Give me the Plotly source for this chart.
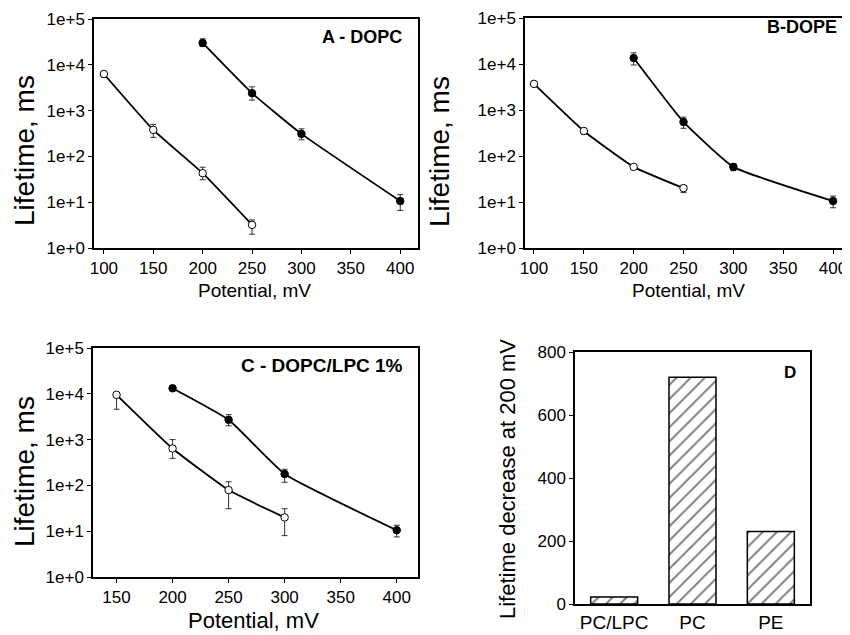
import plotly.graph_objects as go

# page body has an 8px default margin: the figure is drawn that much smaller and
# every reference pixel position is shifted by OFF.
OFF = 8
W, H = 850 - OFF, 635 - OFF
FONT = "Liberation Sans, Arial, sans-serif"

# ---------------- data ----------------
# Panel A - DOPC
a_open_x = [100, 150, 200, 250]
a_open_y = [6300, 380, 43, 3.2]
a_open_ep = [900, 120, 15, 0.9]
a_open_em = [900, 120, 12, 1.2]
a_closed_x = [200, 250, 300, 400]
a_closed_y = [30000, 2400, 310, 10.6]
a_closed_ep = [7000, 900, 90, 4]
a_closed_em = [5000, 700, 80, 4]

# Panel B - DOPE
b_open_x = [100, 150, 200, 250]
b_open_y = [3700, 350, 58, 20]
b_open_ep = [300, 50, 5, 3]
b_open_em = [300, 50, 5, 4]
b_closed_x = [200, 250, 300, 400]
b_closed_y = [13500, 550, 58, 10.5]
b_closed_ep = [4000, 150, 10, 3]
b_closed_em = [4000, 150, 10, 3]

# Panel C - DOPC/LPC 1%
c_open_x = [150, 200, 250, 300]
c_open_y = [9500, 640, 79, 20]
c_open_ep = [1000, 360, 41, 11]
c_open_em = [4900, 250, 48, 12]
c_closed_x = [200, 250, 300, 400]
c_closed_y = [13200, 2700, 177, 10.5]
c_closed_ep = [1500, 800, 48, 3]
c_closed_em = [1500, 700, 60, 3]

# Panel D
d_categories = ["PC/LPC", "PC", "PE"]
d_values = [22, 720, 230]

log_tickvals = [1, 10, 100, 1000, 10000, 100000]
log_ticktext = ["1e+0", "1e+1", "1e+2", "1e+3", "1e+4", "1e+5"]
ab_xticks = [100, 150, 200, 250, 300, 350, 400]
c_xticks = [150, 200, 250, 300, 350, 400]
d_yticks = [0, 200, 400, 600, 800]

panel_labels = ["A - DOPC", "B-DOPE", "C - DOPC/LPC 1%", "D"]
x_title = "Potential, mV"
y_title = "Lifetime, ms"
d_y_title = "Lifetime decrease at 200 mV"


def px_x(p):
    return (p - OFF) / W


def px_y(p):
    return 1 - (p - OFF) / H


fig = go.Figure()


def add_series(x, y, ep, em, xa, ya, filled):
    fig.add_trace(go.Scatter(
        x=x, y=y, xaxis=xa, yaxis=ya, mode="lines+markers",
        line=dict(color="black", width=1.8, shape="spline", smoothing=0.4),
        marker=dict(size=7.5, symbol="circle",
                    color="black" if filled else "white",
                    line=dict(color="black", width=1)),
        error_y=dict(type="data", symmetric=False, array=ep, arrayminus=em,
                     color="#333333", thickness=1, width=3),
        showlegend=False,
    ))


add_series(a_open_x, a_open_y, a_open_ep, a_open_em, "x", "y", False)
add_series(a_closed_x, a_closed_y, a_closed_ep, a_closed_em, "x", "y", True)
add_series(b_open_x, b_open_y, b_open_ep, b_open_em, "x2", "y2", False)
add_series(b_closed_x, b_closed_y, b_closed_ep, b_closed_em, "x2", "y2", True)
add_series(c_open_x, c_open_y, c_open_ep, c_open_em, "x3", "y3", False)
add_series(c_closed_x, c_closed_y, c_closed_ep, c_closed_em, "x3", "y3", True)

fig.add_trace(go.Bar(
    x=d_categories, y=d_values, xaxis="x4", yaxis="y4",
    marker=dict(color="white", line=dict(color="black", width=1.5),
                pattern=dict(shape="/", fgcolor="black", bgcolor="white",
                             size=10, solidity=0.2)),
    width=0.6, showlegend=False,
))

axis_common = dict(showline=True, linecolor="black", linewidth=1.5, mirror=True,
                   ticks="outside", ticklen=4, tickcolor="black", tickwidth=1,
                   showgrid=False, zeroline=False, automargin=False,
                   tickfont=dict(family=FONT, size=17, color="black"))

# domains (reference pixel positions)
dom = {
    "A": ([94, 418], [19, 248]),
    "B": ([525, 849], [18, 248]),
    "C": ([93, 418], [348, 577]),
    "D": ([575, 810], [352, 604]),
}


def xd(k):
    return [px_x(dom[k][0][0]), px_x(dom[k][0][1])]


def yd(k):
    return [px_y(dom[k][1][1]), px_y(dom[k][1][0])]


layout = dict(
    width=W, height=H, margin=dict(l=0, r=0, t=0, b=0, autoexpand=False),
    paper_bgcolor="white", plot_bgcolor="white",
    font=dict(family=FONT, color="black"),
    xaxis=dict(domain=xd("A"), anchor="y", range=[90, 418], tickvals=ab_xticks, **axis_common),
    yaxis=dict(domain=yd("A"), anchor="x", type="log", range=[0, 5],
               tickvals=log_tickvals, ticktext=log_ticktext, **axis_common),
    xaxis2=dict(domain=xd("B"), anchor="y2", range=[91, 416], tickvals=ab_xticks, **axis_common),
    yaxis2=dict(domain=yd("B"), anchor="x2", type="log", range=[0, 5],
                tickvals=log_tickvals, ticktext=log_ticktext, **axis_common),
    xaxis3=dict(domain=xd("C"), anchor="y3", range=[129, 419], tickvals=c_xticks, **axis_common),
    yaxis3=dict(domain=yd("C"), anchor="x3", type="log", range=[0, 5],
                tickvals=log_tickvals, ticktext=log_ticktext, **axis_common),
    xaxis4=dict(domain=xd("D"), anchor="y4", range=[-0.5, 2.5],
                **{**axis_common, "ticks": "", "tickfont": dict(family=FONT, size=19, color="black")}),
    yaxis4=dict(domain=yd("D"), anchor="x4", range=[0, 800], tickvals=d_yticks, **axis_common),
)
fig.update_layout(**layout)

annotations = []


def ann(text, x, y, size, angle=0, bold=False, xanchor="center"):
    annotations.append(dict(
        text=f"<b>{text}</b>" if bold else text,
        x=px_x(x), y=px_y(y), xref="paper", yref="paper",
        showarrow=False, textangle=angle, xanchor=xanchor, yanchor="middle",
        font=dict(family=FONT, size=size, color="black")))


# axis titles
ann(x_title, 255, 291, 19)
ann(x_title, 688, 291, 19)
ann(x_title, 253, 620, 22)
ann(y_title, 24, 151, 28, angle=-90)
ann(y_title, 440, 152, 28, angle=-90)
ann(y_title, 24, 472, 28, angle=-90)
ann(d_y_title, 507, 479, 22, angle=-90)

# panel labels
ann(panel_labels[0], 404, 37, 18, bold=True, xanchor="right")
ann(panel_labels[1], 839, 27, 18, bold=True, xanchor="right")
ann(panel_labels[2], 405, 365, 19, bold=True, xanchor="right")
ann(panel_labels[3], 798, 372, 17, bold=True, xanchor="right")

fig.update_layout(annotations=annotations)
fig.write_html("out.html")
